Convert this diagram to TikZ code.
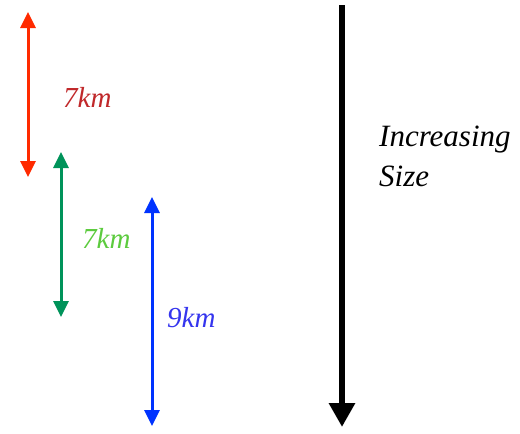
\documentclass[tikz,border=0pt]{standalone}
\usepackage{fontspec}
\setmainfont{Liberation Serif}
\usetikzlibrary{arrows.meta}

\definecolor{redarrow}{HTML}{FF2A00}
\definecolor{redtext}{HTML}{C0282A}
\definecolor{greenarrow}{HTML}{00935A}
\definecolor{greentext}{HTML}{5CCB3E}
\definecolor{bluearrow}{HTML}{0033FF}
\definecolor{bluetext}{HTML}{3535EE}

\begin{document}
\begin{tikzpicture}[
    x=1pt, y=-1pt,
    span/.style={{Triangle[length=16pt, width=15pt]}-{Triangle[length=16pt, width=15pt]}, line width=3pt},
    trend/.style={-{Triangle[length=24pt, width=25pt]}, line width=6pt},
    lbl/.style={anchor=base west, inner sep=0pt, font=\fontsize{29}{34}\selectfont\itshape},
    big/.style={anchor=base west, inner sep=0pt, font=\fontsize{31}{38}\selectfont\itshape}
]
\useasboundingbox (0,0) rectangle (520,434);

% Heights
\coordinate (redtop) at (28,12);
\coordinate (redbot) at (28,177);
\coordinate (greentop) at (61,152);
\coordinate (greenbot) at (61,317);
\coordinate (bluetop) at (152,197);
\coordinate (bluebot) at (152,426);

\draw[span, redarrow] (redtop) -- (redbot);
\draw[span, greenarrow] (greentop) -- (greenbot);
\draw[span, bluearrow] (bluetop) -- (bluebot);

\node[lbl, text=redtext] (redlbl) at (63,107) {7km};
\node[lbl, text=greentext] (greenlbl) at (82,248) {7km};
\node[lbl, text=bluetext] (bluelbl) at (167,327) {9km};

% Size axis
\coordinate (sizetop) at (342,5);
\coordinate (sizebot) at (342,427);
\draw[trend, black] (sizetop) -- (sizebot);

\node[big] (incr) at (379,146) {Increasing};
\node[big] (size) at (379,186) {Size};

\end{tikzpicture}
\end{document}
